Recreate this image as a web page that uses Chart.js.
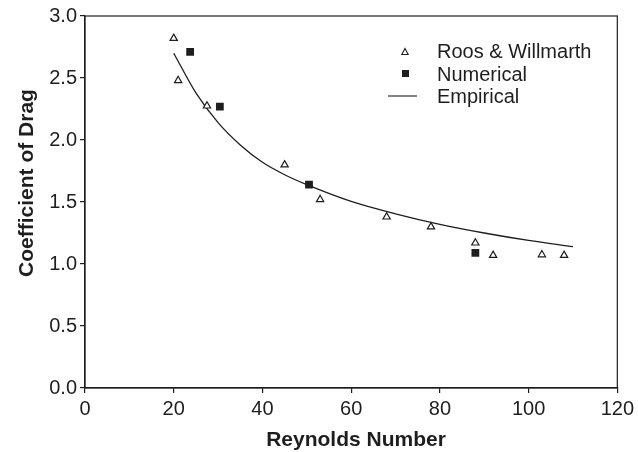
<!DOCTYPE html>
<html>
<head>
<meta charset="utf-8">
<script src="https://cdn.jsdelivr.net/npm/chart.js@4.4.0/dist/chart.umd.min.js"></script>
<style>
  html, body { margin: 0; padding: 0; background: #fff; }
  #wrap { width: 638px; height: 452px; position: relative; }
</style>
</head>
<body>
<div id="wrap"><canvas id="myChart"></canvas></div>
<script>
// Roos & Willmarth experimental points
const roosRe = [20, 21, 27.5, 45, 53, 68, 78, 88, 92, 103, 108];
const roosCd = [2.82, 2.48, 2.275, 1.80, 1.52, 1.38, 1.30, 1.17, 1.07, 1.075, 1.07];

// numerical results
const numRe = [23.7, 30.4, 50.5, 88];
const numCd = [2.71, 2.27, 1.64, 1.09];

// empirical curve
const empRe = [20, 25, 30, 35, 40, 45, 50, 60, 70, 80, 90, 100, 110];
const empCd = [2.70, 2.38, 2.14, 1.96, 1.82, 1.72, 1.64, 1.505, 1.405, 1.32, 1.25, 1.19, 1.14];

const xTicks = [0, 20, 40, 60, 80, 100, 120];
const yTicks = [0, 0.5, 1.0, 1.5, 2.0, 2.5, 3.0];

const seriesNames = ['Roos & Willmarth', 'Numerical', 'Empirical'];
const xTitle = 'Reynolds Number';
const yTitle = 'Coefficient of Drag';

const ink = '#1e1e1e';
const font = '"Liberation Sans", Arial, sans-serif';

const toPts = (xs, ys) => xs.map((x, i) => ({ x: x, y: ys[i] }));

// frame, axis titles and legend
const extras = {
    id: 'extras',
    afterDraw(chart) {
        const c = chart.ctx;
        const a = chart.chartArea;
        c.save();
        c.strokeStyle = ink;
        c.lineWidth = 1.2;
        c.strokeRect(a.left, a.top, a.right - a.left, a.bottom - a.top);

        c.fillStyle = ink;
        c.font = 'bold 21px ' + font;
        c.textAlign = 'center';
        c.textBaseline = 'alphabetic';
        c.fillText(xTitle, 356, 446);
        c.save();
        c.translate(33, 183);
        c.rotate(-Math.PI / 2);
        c.fillText(yTitle, 0, 0);
        c.restore();

        // legend
        c.font = '20px ' + font;
        c.textAlign = 'left';
        c.fillText(seriesNames[0], 437, 57.5);
        c.fillText(seriesNames[1], 437, 80.5);
        c.fillText(seriesNames[2], 437, 103);

        c.lineWidth = 1.1;
        c.fillStyle = '#fff';
        c.beginPath();
        c.moveTo(405, 48.5);
        c.lineTo(408.2, 54.5);
        c.lineTo(401.8, 54.5);
        c.closePath();
        c.fill();
        c.stroke();

        c.fillStyle = ink;
        c.fillRect(402, 70, 7, 7);

        c.beginPath();
        c.moveTo(388, 96);
        c.lineTo(417, 96);
        c.stroke();
        c.restore();
    }
};

const ctx = document.getElementById('myChart');

new Chart(ctx, {
    type: 'scatter',
    data: {
        datasets: [{
            label: seriesNames[0],
            data: toPts(roosRe, roosCd),
            pointStyle: 'triangle',
            pointRadius: 4.2,
            borderWidth: 1.2,
            borderColor: ink,
            backgroundColor: '#fff',
            order: 1
        }, {
            label: seriesNames[1],
            data: toPts(numRe, numCd),
            pointStyle: 'rect',
            pointRadius: 5.5,
            borderWidth: 0,
            borderColor: ink,
            backgroundColor: ink,
            order: 0
        }, {
            type: 'line',
            label: seriesNames[2],
            data: toPts(empRe, empCd),
            showLine: true,
            pointRadius: 0,
            borderWidth: 1.3,
            borderColor: ink,
            fill: false,
            cubicInterpolationMode: 'monotone',
            order: 2
        }]
    },
    options: {
        responsive: true,
        maintainAspectRatio: false,
        animation: false,
        layout: {
            padding: { top: 16, right: 20, left: 0, bottom: 0 }
        },
        plugins: {
            legend: { display: false },
            tooltip: { enabled: false }
        },
        scales: {
            x: {
                type: 'linear',
                min: 0,
                max: 120,
                afterBuildTicks: (s) => { s.ticks = xTicks.map(v => ({ value: v })); },
                afterFit: (s) => { s.height = 64; },
                ticks: {
                    color: ink,
                    padding: 4,
                    font: { family: font, size: 20 }
                },
                grid: {
                    drawOnChartArea: false,
                    tickLength: 5,
                    color: ink,
                    lineWidth: 1.2
                },
                border: { color: ink, width: 1.2 }
            },
            y: {
                min: 0,
                max: 3,
                afterBuildTicks: (s) => { s.ticks = yTicks.map(v => ({ value: v })); },
                afterFit: (s) => { s.width = 85; },
                ticks: {
                    color: ink,
                    padding: 3,
                    font: { family: font, size: 20 },
                    callback: (v) => Number(v).toFixed(1)
                },
                grid: {
                    drawOnChartArea: false,
                    tickLength: 5,
                    color: ink,
                    lineWidth: 1.2
                },
                border: { color: ink, width: 1.2 }
            }
        }
    },
    plugins: [extras]
});
</script>
</body>
</html>
